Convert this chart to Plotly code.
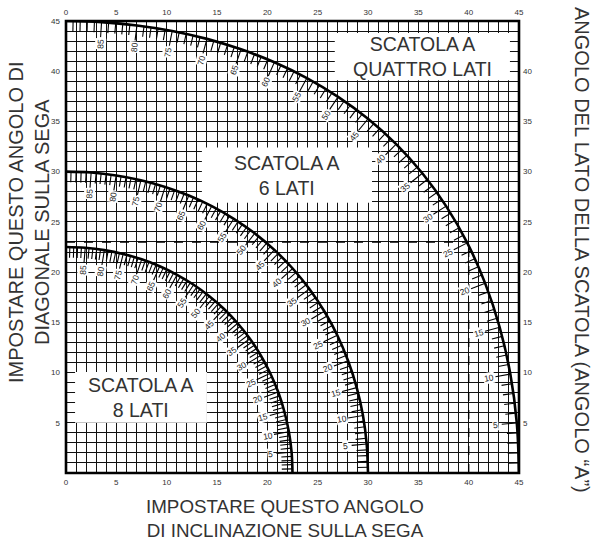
import math
import plotly.graph_objects as go

# ---------------- data ----------------
angles = [0, 5, 10, 15, 20, 25, 30, 35, 40, 45, 50, 55, 60, 65, 70, 75, 80, 85, 90]

quattro_x = [45.0, 44.78, 44.14, 43.08, 41.64, 39.86, 37.76, 35.40, 32.80, 30.0,
             27.03, 23.93, 20.70, 17.39, 14.00, 10.55, 7.05, 3.53, 0.0]
quattro_y = [0.0, 4.98, 9.85, 14.51, 18.88, 22.91, 26.57, 29.84, 32.74, 35.26,
             37.45, 39.32, 40.89, 42.18, 43.22, 44.01, 44.56, 44.89, 45.0]

sei_x = [30.0, 29.87, 29.50, 28.88, 28.02, 26.95, 25.66, 24.18, 22.52, 20.70,
         18.75, 16.67, 14.48, 12.20, 9.85, 7.44, 4.98, 2.50, 0.0]
sei_y = [0.0, 2.88, 5.73, 8.50, 11.17, 13.71, 16.10, 18.32, 20.36, 22.21,
         23.86, 25.31, 26.57, 27.62, 28.48, 29.15, 29.62, 29.91, 30.0]

otto_x = [22.5, 22.41, 22.14, 21.69, 21.08, 20.29, 19.35, 18.27, 17.05, 15.70,
          14.24, 12.68, 11.03, 9.31, 7.52, 5.68, 3.81, 1.91, 0.0]
otto_y = [0.0, 2.07, 4.11, 6.12, 8.06, 9.93, 11.70, 13.37, 14.91, 16.33,
          17.60, 18.74, 19.73, 20.58, 21.27, 21.81, 22.19, 22.42, 22.5]

axis_ticks = [0, 5, 10, 15, 20, 25, 30, 35, 40, 45]
right_ticks = [5, 10, 15, 20, 25, 30, 35, 40]
guide_x = 40
guide_y = 23

box_labels = ["SCATOLA A<br>QUATTRO LATI", "SCATOLA A<br>6 LATI", "SCATOLA A<br>8 LATI"]
box_x0 = [26.7, 13.5, 0.9]
box_x1 = [44.1, 30.4, 14.0]
box_y0 = [39.1, 26.9, 5.0]
box_y1 = [43.8, 32.4, 10.06]

x_title = "IMPOSTARE QUESTO ANGOLO<br>DI INCLINAZIONE SULLA SEGA"
y_title = "IMPOSTARE QUESTO ANGOLO DI<br>DIAGONALE SULLA SEGA"
y2_title = "ANGOLO DEL LATO DELLA SCATOLA (ANGOLO “A”)"

# ---------------- helpers ----------------
FONT = "Liberation Sans, Arial, sans-serif"
TXT = "#333333"


def cr_point(px, py, deg):
    """Position and derivative on a Catmull-Rom curve through the 5-degree points."""
    n = len(px)
    seg = min(int(deg // 5), n - 2)
    t = (deg - seg * 5) / 5.0

    def g(arr, i):
        if i < 0:
            return 2 * arr[0] - arr[1]
        if i > n - 1:
            return 2 * arr[n - 1] - arr[n - 2]
        return arr[i]

    out = []
    for arr in (px, py):
        p0, p1, p2, p3 = g(arr, seg - 1), g(arr, seg), g(arr, seg + 1), g(arr, seg + 2)
        val = 0.5 * ((2 * p1) + (-p0 + p2) * t + (2 * p0 - 5 * p1 + 4 * p2 - p3) * t * t
                     + (-p0 + 3 * p1 - 3 * p2 + p3) * t ** 3)
        der = 0.5 * ((-p0 + p2) + 2 * (2 * p0 - 5 * p1 + 4 * p2 - p3) * t
                     + 3 * (-p0 + 3 * p1 - 3 * p2 + p3) * t * t)
        out.append((val, der))
    return out[0][0], out[1][0], out[0][1], out[1][1]


fig = go.Figure()
annotations = []

curves = [(quattro_x, quattro_y), (sei_x, sei_y), (otto_x, otto_y)]
for cx, cy in curves:
    fig.add_trace(go.Scatter(x=cx, y=cy, mode="lines", line=dict(color="black", width=2.6, shape="spline"),
                             hoverinfo="skip", showlegend=False))
    tx, ty = [], []
    for deg in range(1, 90):
        x, y, dx, dy = cr_point(cx, cy, deg)
        L = math.hypot(dx, dy)
        nx, ny = dy / L, -dx / L  # outward normal
        major = deg % 5 == 0
        ln = 1.5 if major else 1.05
        tx += [x, x - nx * ln, None]
        ty += [y, y - ny * ln, None]
        if major:
            d = 2.15
            theta = math.degrees(math.atan2(ny, nx))
            annotations.append(dict(x=x - nx * d, y=y - ny * d, xref="x", yref="y", text=str(deg),
                                    showarrow=False, textangle=-theta, bgcolor="white", borderpad=0,
                                    xanchor="center", yanchor="middle",
                                    font=dict(size=8.5, color="#222222", family=FONT)))
    fig.add_trace(go.Scatter(x=tx, y=ty, mode="lines", line=dict(color="black", width=1.1),
                             hoverinfo="skip", showlegend=False))

# dashed guide lines
fig.add_trace(go.Scatter(x=[0, guide_x], y=[guide_y, guide_y], mode="lines",
                         line=dict(color="black", width=1.4, dash="dash"), hoverinfo="skip", showlegend=False))
fig.add_trace(go.Scatter(x=[guide_x, guide_x], y=[0, guide_y], mode="lines",
                         line=dict(color="black", width=1.4, dash="dash"), hoverinfo="skip", showlegend=False))

# invisible trace for the secondary (top / right) axes
fig.add_trace(go.Scatter(x=[0], y=[0], xaxis="x2", yaxis="y2", mode="markers",
                         marker=dict(opacity=0), hoverinfo="skip", showlegend=False))

shapes = []
for i, lab in enumerate(box_labels):
    shapes.append(dict(type="rect", xref="x", yref="y", x0=box_x0[i], x1=box_x1[i], y0=box_y0[i], y1=box_y1[i],
                       fillcolor="white", line=dict(width=0), layer="between"))
    annotations.append(dict(x=(box_x0[i] + box_x1[i]) / 2, y=(box_y0[i] + box_y1[i]) / 2, xref="x", yref="y",
                            text=lab, showarrow=False, align="center", xanchor="center", yanchor="middle",
                            font=dict(size=19.5, color=TXT, family=FONT)))

shapes.append(dict(type="rect", xref="paper", yref="paper", x0=0, x1=1, y0=0, y1=1,
                   line=dict(color="black", width=2.6), layer="above"))

# axis titles (pixel positions converted to paper coordinates)
L0, R0, T0, B0 = 66, 519, 21, 473
def px2paper(px, py):
    return (px - L0) / (R0 - L0), (B0 - py) / (B0 - T0)

ax, ay = px2paper(285, 518)
annotations.append(dict(x=ax, y=ay, xref="paper", yref="paper", text=x_title, showarrow=False,
                        align="center", xanchor="center", yanchor="middle",
                        font=dict(size=18.8, color=TXT, family=FONT)))
ax, ay = px2paper(29, 222)
annotations.append(dict(x=ax, y=ay, xref="paper", yref="paper", text=y_title, showarrow=False,
                        align="center", textangle=-90, xanchor="center", yanchor="middle",
                        font=dict(size=20, color=TXT, family=FONT)))
ax, ay = px2paper(582, 250)
annotations.append(dict(x=ax, y=ay, xref="paper", yref="paper", text=y2_title, showarrow=False,
                        align="center", textangle=90, xanchor="center", yanchor="middle",
                        font=dict(size=20, color=TXT, family=FONT)))

all_units = list(range(0, 46))
x_text = [str(v) if v in axis_ticks else "" for v in all_units]
y_text = [str(v) if (v in axis_ticks and v != 0) else "" for v in all_units]
tickfont = dict(size=8, color="#333333", family=FONT)

fig.update_layout(
    width=595, height=541,
    margin=dict(l=L0, r=595 - R0, t=T0, b=541 - B0, autoexpand=False),
    paper_bgcolor="white", plot_bgcolor="white",
    showlegend=False,
    xaxis=dict(range=[0, 45], tickmode="array", tickvals=all_units, ticktext=x_text, showgrid=True,
               gridcolor="#111111", gridwidth=1.1, zeroline=False, showline=False, ticks="",
               tickfont=tickfont, ticklabelstandoff=3, fixedrange=True, automargin=False),
    yaxis=dict(range=[0, 45], tickmode="array", tickvals=all_units, ticktext=y_text, showgrid=True,
               gridcolor="#111111", gridwidth=1.1, zeroline=False, showline=False, ticks="",
               tickfont=tickfont, ticklabelstandoff=5, fixedrange=True, automargin=False),
    xaxis2=dict(range=[0, 45], overlaying="x", side="top", tickmode="array", tickvals=axis_ticks,
                showgrid=False, zeroline=False, showline=False, ticks="", tickfont=tickfont,
                ticklabelstandoff=3, fixedrange=True, automargin=False),
    yaxis2=dict(range=[0, 45], overlaying="y", side="right", tickmode="array", tickvals=right_ticks,
                showgrid=False, zeroline=False, showline=False, ticks="", tickfont=tickfont,
                ticklabelstandoff=3, fixedrange=True, automargin=False),
    shapes=shapes,
    annotations=annotations,
)

fig.write_html("out.html", config={"displayModeBar": False},
               post_script="document.body.style.margin='0';document.body.style.padding='0';")
